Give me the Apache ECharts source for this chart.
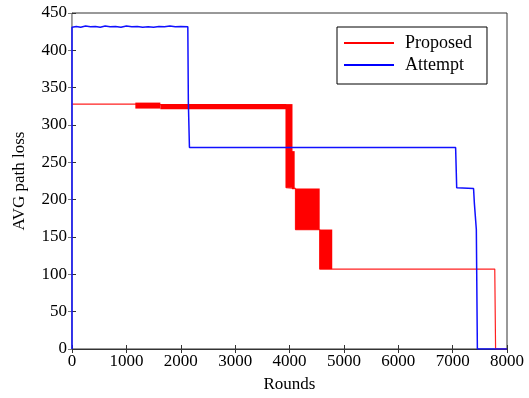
<!DOCTYPE html>
<html>
<head>
<meta charset="utf-8">
<script src="https://cdn.jsdelivr.net/npm/echarts@6/dist/echarts.min.js"></script>
<style>
  html, body { margin: 0; padding: 0; background: #fff; }
  #main { width: 529px; height: 398px; }
</style>
</head>
<body>
<div id="main"></div>
<script>
// x ticks / y ticks
var xTicks = [0, 1000, 2000, 3000, 4000, 5000, 6000, 7000, 8000];
var yTicks = [0, 50, 100, 150, 200, 250, 300, 350, 400, 450];

// Proposed: thin line [round, loss]
var proposedLine = [
  [0, 328], [1165, 328], [1165, 326], [3940, 324], [3940, 216],
  [4110, 215], [4110, 160], [4555, 160], [4555, 107], [4786, 107],
  [7775, 107], [7790, 0], [8000, 0]
];
// Proposed: oscillating segments drawn as bands [x0, x1, low, high]
var proposedBands = [
  [1165, 1625, 322, 330],
  [1625, 3940, 321, 328],
  [3930, 4055, 216, 328],
  [4045, 4095, 214, 265],
  [4110, 4555, 160, 215],
  [4555, 4786, 107, 160]
];
// Attempt
var attemptLine = [
  [0, 0], [0, 431], [80, 432], [160, 431], [250, 432.5], [340, 431.5], [430, 432],
  [520, 431], [610, 432.5], [700, 431.5], [800, 432], [900, 431], [1000, 432.5],
  [1100, 431.5], [1200, 432], [1300, 431], [1400, 431.5], [1500, 431], [1600, 432],
  [1700, 431.5], [1800, 432.5], [1900, 431.5], [2000, 432], [2130, 431.5],
  [2140, 330], [2160, 270], [3000, 270], [4000, 270], [5000, 270], [6000, 270],
  [7055, 270], [7075, 216], [7385, 215], [7400, 195], [7436, 160], [7455, 0], [8000, 0]
];

var font = 'Liberation Serif';
var axisColor = '#333';

var chart = echarts.init(document.getElementById('main'));

var option = {
  animation: false,
  backgroundColor: '#fff',
  grid: { left: 72, right: 22, top: 13, bottom: 48, show: true, borderColor: axisColor, borderWidth: 1 },
  legend: {
    data: ['Proposed', 'Attempt'],
    orient: 'vertical',
    left: 337,
    top: 27,
    itemWidth: 50,
    itemHeight: 2,
    itemGap: 4,
    icon: 'rect',
    borderColor: '#000',
    borderWidth: 1,
    backgroundColor: '#fff',
    padding: [7, 15, 10, 7],
    textStyle: { fontFamily: font, fontSize: 18, color: '#000', padding: [0, 0, 0, 6] }
  },
  xAxis: [{
    type: 'value', min: 0, max: 8000, interval: 1000,
    name: 'Rounds', nameLocation: 'middle', nameGap: 27,
    nameTextStyle: { fontFamily: font, fontSize: 17, color: '#000' },
    axisLine: { show: true, lineStyle: { color: axisColor } },
    axisTick: { inside: true, length: 4, lineStyle: { color: axisColor } },
    axisLabel: {
      fontFamily: font, fontSize: 17, color: '#000', margin: 4,
      formatter: function (v) { return String(v); }
    },
    splitLine: { show: false }
  }, {
    type: 'value', position: 'top', min: 0, max: 8000, interval: 1000,
    axisLine: { show: true, lineStyle: { color: axisColor } },
    axisTick: { show: true, inside: true, length: 4, lineStyle: { color: axisColor } },
    axisLabel: { show: false },
    splitLine: { show: false }
  }],
  yAxis: [{
    type: 'value', min: 0, max: 450, interval: 50,
    name: 'AVG path loss', nameLocation: 'middle', nameGap: 44,
    nameTextStyle: { fontFamily: font, fontSize: 17, color: '#000' },
    axisLine: { show: true, lineStyle: { color: axisColor } },
    axisTick: { inside: true, length: 4, lineStyle: { color: axisColor } },
    axisLabel: { fontFamily: font, fontSize: 17, color: '#000', margin: 5 },
    splitLine: { show: false }
  }, {
    type: 'value', position: 'right', min: 0, max: 450, interval: 50,
    axisLine: { show: true, lineStyle: { color: '#aaa' } },
    axisTick: { show: true, inside: true, length: 4, lineStyle: { color: '#777' } },
    axisLabel: { show: false },
    splitLine: { show: false }
  }],
  series: [
    {
      name: 'Proposed', type: 'line', data: proposedLine,
      showSymbol: false, symbol: 'none', color: '#ff0000',
      lineStyle: { width: 1.2, color: '#ff2020' }, z: 2
    },
    {
      name: 'ProposedBand', type: 'custom', data: proposedBands,
      encode: { x: [0, 1], y: [2, 3] },
      renderItem: function (params, api) {
        var p0 = api.coord([api.value(0), api.value(3)]);
        var p1 = api.coord([api.value(1), api.value(2)]);
        return {
          type: 'rect',
          shape: { x: p0[0], y: p0[1], width: p1[0] - p0[0], height: p1[1] - p0[1] },
          style: { fill: '#ff0000' }
        };
      },
      z: 3
    },
    {
      name: 'Attempt', type: 'line', data: attemptLine,
      showSymbol: false, symbol: 'none', color: '#0000ff',
      lineStyle: { width: 1.5, color: '#1010ff' }, z: 4
    }
  ]
};

chart.setOption(option);
</script>
</body>
</html>
